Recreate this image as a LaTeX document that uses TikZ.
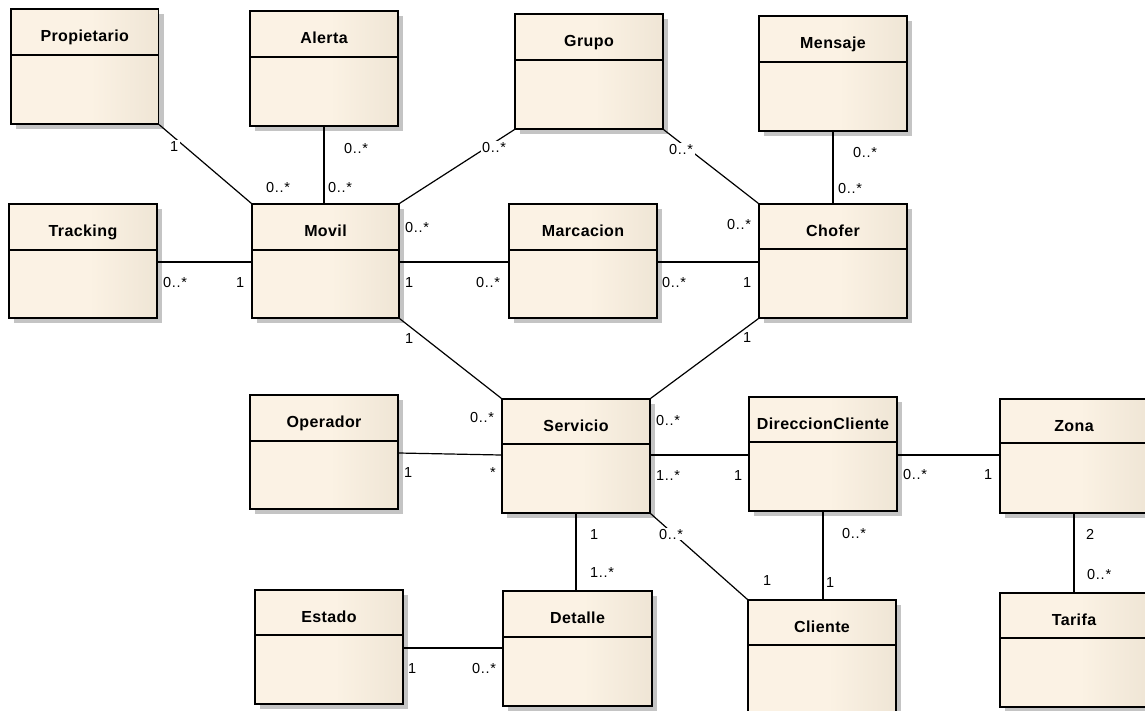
\documentclass[tikz,border=0pt]{standalone}
\usepackage{fontspec}
\setmainfont{Liberation Sans}
\newfontfamily\titlefont[LetterSpace=2.5]{Liberation Sans}
\newfontfamily\multfont[LetterSpace=5]{Liberation Sans}
\usetikzlibrary{calc}

\definecolor{creamA}{RGB}{244,234,219}
\definecolor{creamB}{RGB}{251,242,228}
\definecolor{tanC}{RGB}{226,215,197}
\definecolor{shadowgray}{RGB}{196,196,196}
\pgfdeclarehorizontalshading{classfill}{100bp}{color(0bp)=(creamA); color(12bp)=(creamB); color(52bp)=(creamB); color(100bp)=(tanC)}

\tikzset{
  classbox/.style={draw=black, line width=1.3pt, shading=classfill, inner sep=0pt},
  classtitle/.style={font=\titlefont\fontsize{16}{18}\selectfont\bfseries, anchor=base, inner sep=0pt},
  assoc/.style={draw=black, line width=1.2pt},
  mult/.style={font=\multfont\fontsize{14.5}{16}\selectfont, anchor=base west, inner sep=0pt},
  knock/.style={fill=white, inner xsep=1.5pt, inner ysep=1pt},
}

% #1 name, #2 left, #3 top, #4 right, #5 bottom, #6 divider y, #7 title
\newcommand\umlclass[7]{%
  \fill[shadowgray] ({#2+5},{#3+5}) rectangle ({#4+5},{#5+5});
  \node[classbox, minimum width={(#4-#2)*1pt}, minimum height={(#5-#3)*1pt}]
    (#1) at ({(#2+#4)/2},{(#3+#5)/2}) {};
  \draw[line width=1.3pt] (#1.west |- 0,#6) -- (#1.east |- 0,#6);
  \node[classtitle] at ({(#2+#4)/2},{#3+32}) {#7};
}

\begin{document}
\begin{tikzpicture}[x=1pt,y=-1pt]
\useasboundingbox[fill=white] (0,0) rectangle (1145,710);

% classes
\umlclass{prop}{11}{9}{158.5}{124}{55}{Propietario}
\umlclass{alerta}{250}{11}{398}{126}{57}{Alerta}
\umlclass{grupo}{515}{14}{663}{129}{60}{Grupo}
\umlclass{mensaje}{759}{16}{907}{131}{62}{Mensaje}
\umlclass{tracking}{9}{204}{157}{318}{250}{Tracking}
\umlclass{movil}{252}{204}{399}{318}{250}{Movil}
\umlclass{marcacion}{509}{204}{657}{318}{250}{Marcacion}
\umlclass{chofer}{759}{204}{907}{318}{249}{Chofer}
\umlclass{operador}{250}{395}{398}{509}{441}{Operador}
\umlclass{servicio}{502}{399}{650}{513}{444}{Servicio}
\umlclass{dircli}{749}{397}{897}{511}{442}{DireccionCliente}
\umlclass{zona}{1000}{399}{1148}{513}{443}{Zona}
\umlclass{estado}{255}{590}{403}{704}{635}{Estado}
\umlclass{detalle}{503}{591}{652}{706}{637}{Detalle}
\umlclass{cliente}{748}{600}{896}{715}{645}{Cliente}
\umlclass{tarifa}{1000}{593}{1148}{707}{638}{Tarifa}

% associations
\draw[assoc] (prop.south east) -- (movil.north west);
\draw[assoc] (alerta.south) -- (alerta.south |- movil.north);
\draw[assoc] (grupo.south west) -- (movil.north east);
\draw[assoc] (grupo.south east) -- (chofer.north west);
\draw[assoc] (mensaje.south) -- (mensaje.south |- chofer.north);
\draw[assoc] (tracking.east |- 0,262) -- (movil.west |- 0,262);
\draw[assoc] (movil.east |- 0,262) -- (marcacion.west |- 0,262);
\draw[assoc] (marcacion.east |- 0,262) -- (chofer.west |- 0,262);
\draw[assoc] (movil.south east) -- (servicio.north west);
\draw[assoc] (chofer.south west) -- (servicio.north east);
\draw[assoc] (operador.east |- 0,453) -- (servicio.west |- 0,455);
\draw[assoc] (servicio.east |- 0,455) -- (dircli.west |- 0,455);
\draw[assoc] (dircli.east |- 0,455) -- (zona.west |- 0,455);
\draw[assoc] (servicio.south) -- (servicio.south |- detalle.north);
\draw[assoc] (servicio.south east) -- (cliente.north west);
\draw[assoc] (dircli.south) -- (dircli.south |- cliente.north);
\draw[assoc] (zona.south) -- (zona.south |- tarifa.north);
\draw[assoc] (estado.east |- 0,648) -- (detalle.west |- 0,648);

% multiplicities
\node[mult] (m1) at (266,192) {0..*};
\node[mult] (m2) at (344,153) {0..*};
\node[mult] (m3) at (328,192) {0..*};
\node[mult,knock] (m4) at (480.5,152) {0..*};
\node[mult,knock] (m5) at (667.5,154) {0..*};
\node[mult] (m6) at (853,157) {0..*};
\node[mult] (m7) at (838,193) {0..*};
\node[mult] (m8) at (163,287) {0..*};
\node[mult] (m9) at (405,232) {0..*};
\node[mult] (m10) at (476,287) {0..*};
\node[mult] (m11) at (662,287) {0..*};
\node[mult] (m12) at (727,229) {0..*};
\node[mult] (m13) at (470,422) {0..*};
\node[mult] (m14) at (656,425) {0..*};
\node[mult] (m15) at (490,477) {*};
\node[mult] (m16) at (656,480) {1..*};
\node[mult,knock] (m17) at (657.5,539) {0..*};
\node[mult] (m18) at (590,577) {1..*};
\node[mult] (m19) at (472,673) {0..*};
\node[mult] (m20) at (903,479) {0..*};
\node[mult] (m21) at (842,538) {0..*};
\node[mult] (m22) at (1087,579) {0..*};

\node[mult,knock] (n1) at (168.5,151) {1};
\node[mult] (n2) at (236,287) {1};
\node[mult] (n3) at (405,287) {1};
\node[mult] (n4) at (743,287) {1};
\node[mult] (n5) at (405,343) {1};
\node[mult] (n6) at (743,342) {1};
\node[mult] (n7) at (404,477) {1};
\node[mult] (n8) at (734,480) {1};
\node[mult] (n9) at (590,539) {1};
\node[mult] (n10) at (408,673) {1};
\node[mult] (n11) at (984,479) {1};
\node[mult] (n12) at (763,585) {1};
\node[mult] (n13) at (826,587) {1};
\node[mult] (n14) at (1086,539) {2};
\end{tikzpicture}
\end{document}
